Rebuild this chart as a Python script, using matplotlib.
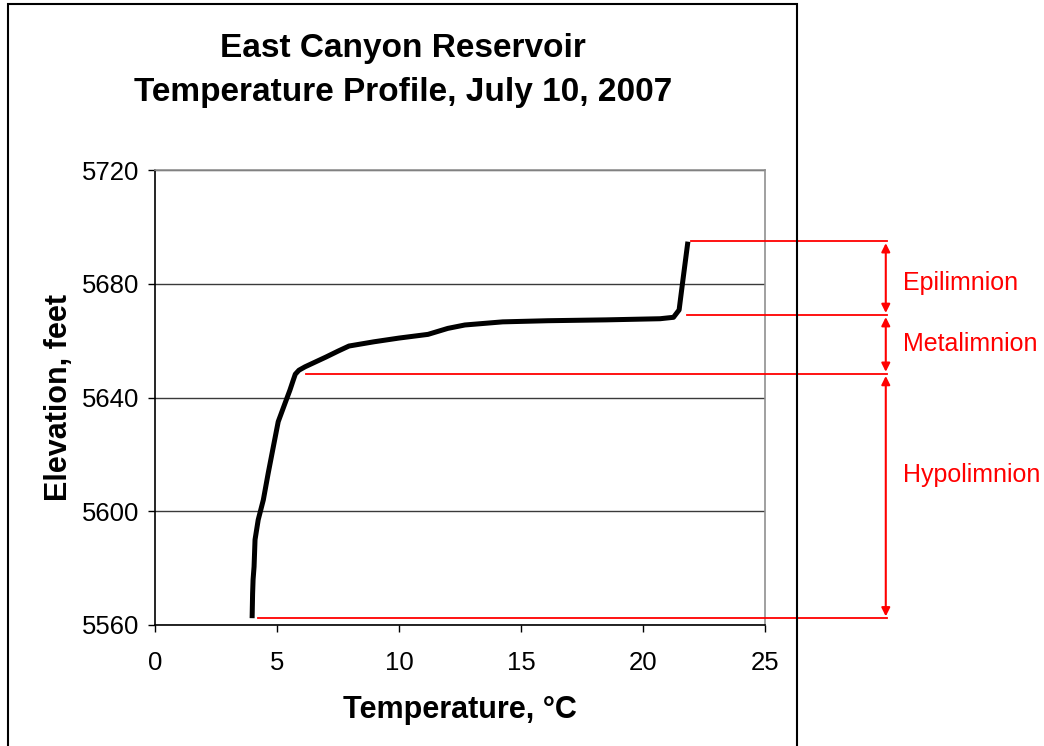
import matplotlib
matplotlib.use('Agg')
import matplotlib.pyplot as plt
from matplotlib.patches import Rectangle

plt.rcParams['font.family'] = ['Liberation Sans', 'DejaVu Sans']

# temperature profile (bottom -> surface)
elev = [5562.4, 5571, 5576, 5580.5, 5590, 5597, 5604, 5613.4, 5622.7, 5631.5, 5638,
        5642.6, 5646.2, 5648.2, 5649.6, 5650.8, 5652.6, 5654.2, 5656.3, 5658.1,
        5659.6, 5660.9, 5662.2, 5664.3, 5665.5, 5666.6, 5667, 5667.3, 5667.7,
        5668.2, 5670.8, 5679.6, 5694.8]
temp = [3.98, 4.0, 4.02, 4.06, 4.1, 4.23, 4.44, 4.64, 4.85, 5.05, 5.33,
        5.53, 5.67, 5.75, 5.9, 6.15, 6.6, 7.0, 7.5, 7.95,
        8.98, 10.0, 11.19, 12.0, 12.7, 14.25, 16.1, 18.48, 20.7,
        21.25, 21.48, 21.61, 21.84]

# layer boundaries (red lines)
bound_elev = [5695, 5669, 5648.3, 5562.3]
bound_start = [21.85, 21.7, 6.07, 4.14]
layer_names = ['Epilimnion', 'Metalimnion', 'Hypolimnion']
layer_label_elev = [5680.3, 5658.8, 5612.8]

fig = plt.figure(figsize=(10.44, 7.46), dpi=100)
ax = fig.add_axes([155/1044, 1 - 625/746, 610/1044, 455/746])

ax.plot(temp, elev, color='black', linewidth=3.6, solid_capstyle='butt',
        solid_joinstyle='round', zorder=3)

ax.set_xlim(0, 25)
ax.set_ylim(5560, 5720)
ax.set_xticks([0, 5, 10, 15, 20, 25])
ax.set_yticks([5560, 5600, 5640, 5680, 5720])
ax.tick_params(axis='both', labelsize=18.5, direction='out', length=5, width=1, color='black')
ax.tick_params(axis='x', pad=14)
ax.tick_params(axis='y', pad=6)
ax.yaxis.grid(True, color='#3a3a3a', linewidth=1)
ax.set_axisbelow(True)
for side in ['left', 'bottom']:
    ax.spines[side].set_color('black')
    ax.spines[side].set_linewidth(1.2)
for side in ['top', 'right']:
    ax.spines[side].set_color('#909090')
    ax.spines[side].set_linewidth(1.2)

ax.set_xlabel('Temperature, °C', fontsize=22, fontweight='bold', labelpad=14)
ax.set_ylabel('Elevation, feet', fontsize=22, fontweight='bold', labelpad=6)

# red boundary lines, arrows and labels outside the plot area
x_end = 30.0
for e, s in zip(bound_elev, bound_start):
    ax.plot([s + 0.1, x_end], [e, e], color='red', linewidth=1.3, clip_on=False, zorder=4)
for i in range(3):
    ax.annotate('', xy=(29.95, bound_elev[i + 1]), xytext=(29.95, bound_elev[i]),
                arrowprops=dict(arrowstyle='<|-|>,head_length=0.5,head_width=0.25',
                                color='red', lw=1.5, shrinkA=1.5, shrinkB=1.5),
                annotation_clip=False)
    ax.text(30.65, layer_label_elev[i], layer_names[i], color='red', fontsize=18,
            va='center', ha='left', clip_on=False)

fig.text(403/1044, 1 - 48/746, 'East Canyon Reservoir', ha='center', va='center',
         fontsize=24, fontweight='bold')
fig.text(403/1044, 1 - 93/746, 'Temperature Profile, July 10, 2007', ha='center', va='center',
         fontsize=24, fontweight='bold')

# chart border
fig.patches.append(Rectangle((8/1044, -0.02), 789/1044, 1.02 - 4/746, transform=fig.transFigure,
                             fill=False, edgecolor='black', linewidth=1.5))

fig.savefig('out.png', dpi=100)
